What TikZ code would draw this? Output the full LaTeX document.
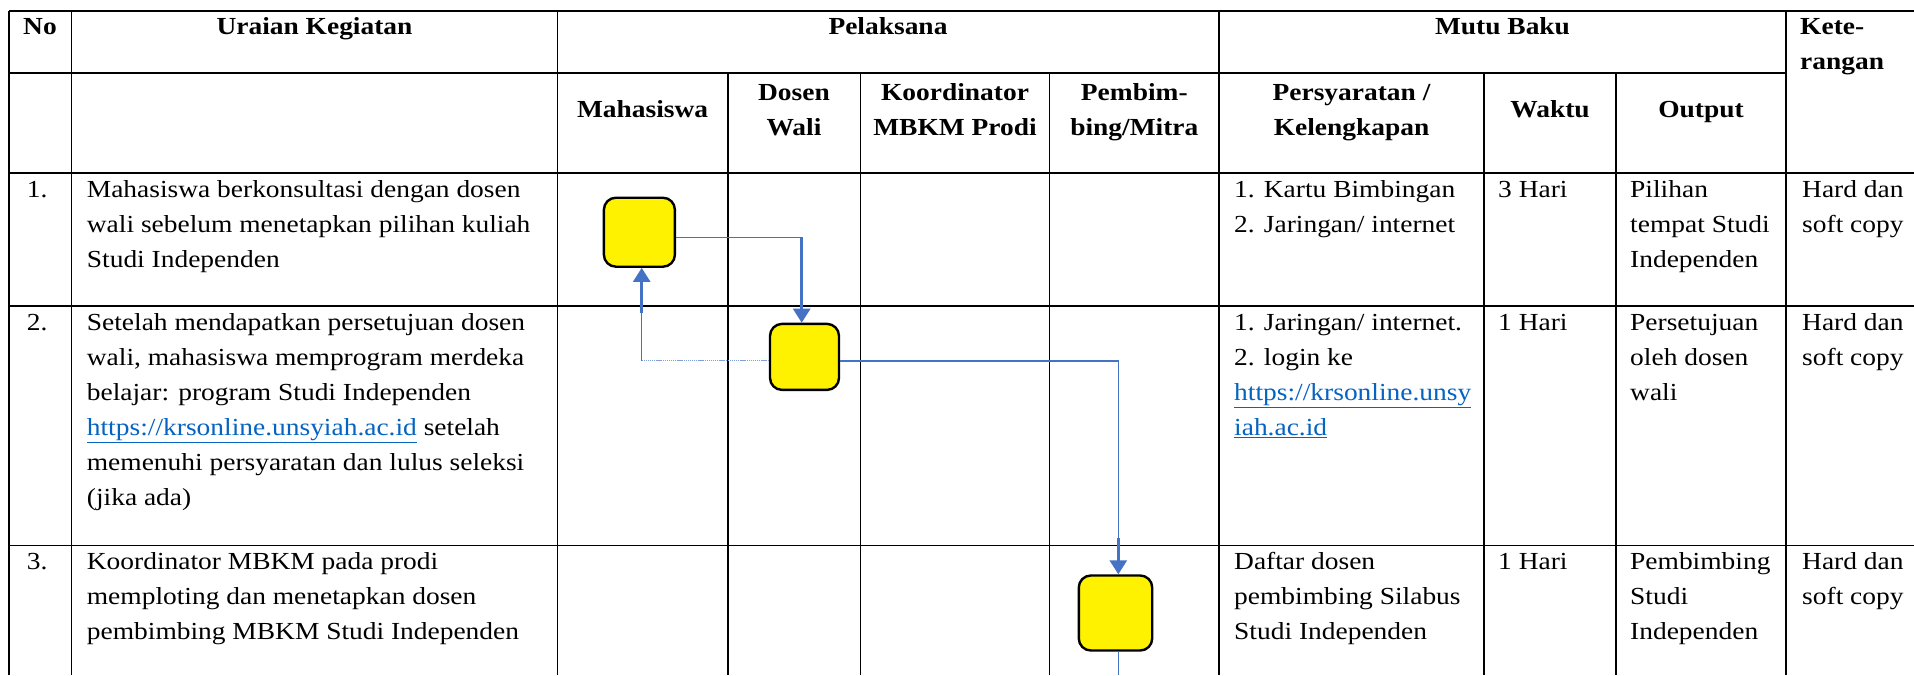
\documentclass[tikz,border=0pt]{standalone}
\usepackage{fontspec}
\setmainfont{Liberation Serif}[FakeStretch=1.12]
\usetikzlibrary{arrows.meta}
\definecolor{conn}{HTML}{4472C4}
\definecolor{connlight}{HTML}{7F9FD6}
\definecolor{linkc}{HTML}{0563C1}
\newcommand\cellfont{\fontsize{24.5}{35}\selectfont}
\newcommand\fst{\rule{0pt}{24pt}}
\newcommand\lnk[1]{\textcolor{linkc}{\underline{#1}}}
\begin{document}
\begin{tikzpicture}[x=1pt,y=-1pt,
  grid/.style={line width=1.6pt, black},
  cell/.style={anchor=north west, inner sep=0pt, align=left, font=\cellfont},
  hcell/.style={anchor=north, inner sep=0pt, align=center, font=\cellfont\bfseries},
  hleft/.style={anchor=north west, inner sep=0pt, align=left, font=\cellfont\bfseries},
  stepbox/.style={draw=black, line width=2.4pt, fill=yellow, rounded corners=12pt, inner sep=0pt},
  flow/.style={draw=conn, line width=1.2pt},
  flowhead/.style={draw=conn, line width=2.7pt, -{Triangle[width=17pt,length=14pt]}},
  flowdot/.style={draw=connlight, line width=1.5pt, dash pattern=on 1.3pt off 0.8pt}]
\useasboundingbox (0,0) rectangle (1914,675);
\fill[white] (0,0) rectangle (1914,675);
% grid
\draw[grid] (9,10.7) -- (1914,10.7);
\draw[grid] (9,73) -- (1786,73);
\draw[grid] (9,173) -- (1914,173);
\draw[grid] (9,306) -- (1914,306);
\draw[grid] (9,545.3) -- (1914,545.3);
\foreach \x in {9,71.3,557.6,1219,1786} \draw[grid] (\x,10.7) -- (\x,675);
\foreach \x in {727.7,860.3,1049.6,1484,1616} \draw[grid] (\x,73) -- (\x,675);
% header row 1
\node[hcell] (hno) at (40,10.7) {\fst No};
\node[hcell] (hura) at (314.5,10.7) {\fst Uraian Kegiatan};
\node[hcell] (hpel) at (888,10.7) {\fst Pelaksana};
\node[hcell] (hmutu) at (1502.5,10.7) {\fst Mutu Baku};
\node[hleft] (hket) at (1800,10.7) {\fst Kete-\\rangan};
% header row 2
\node[hcell] (hmhs) at (642.6,93) {\fst Mahasiswa};
\node[hcell] (hdw) at (794,76) {\fst Dosen\\Wali};
\node[hcell] (hkoor) at (955,76) {\fst Koordinator\\MBKM Prodi};
\node[hcell] (hpemb) at (1134.3,76) {\fst Pembim-\\bing/Mitra};
\node[hcell] (hsyar) at (1351.5,76) {\fst Persyaratan /\\Kelengkapan};
\node[hcell] (hwaktu) at (1550,93) {\fst Waktu};
\node[hcell] (hout) at (1701,93) {\fst Output};
% row 1
\node[cell] (n1) at (26.7,173) {\fst 1.};
\node[cell] (u1) at (86.7,173) {\fst Mahasiswa berkonsultasi dengan dosen\\wali sebelum menetapkan pilihan kuliah\\Studi Independen};
\node[cell] (p1) at (1234,173) {\fst 1. Kartu Bimbingan\\2. Jaringan/ internet};
\node[cell] (w1) at (1498,173) {\fst 3 Hari};
\node[cell] (o1) at (1630,173) {\fst Pilihan\\tempat Studi\\Independen};
\node[cell] (k1) at (1802,173) {\fst Hard dan\\soft copy};
% row 2
\node[cell] (n2) at (26.7,306) {\fst 2.};
\node[cell] (u2) at (86.7,306) {\fst Setelah mendapatkan persetujuan dosen\\wali, mahasiswa memprogram merdeka\\belajar: program Studi Independen\\\lnk{https://krsonline.unsyiah.ac.id} setelah\\memenuhi persyaratan dan lulus seleksi\\(jika ada)};
\node[cell] (p2) at (1234,306) {\fst 1. Jaringan/ internet.\\2. login ke\\\lnk{https://krsonline.unsy}\\\lnk{iah.ac.id}};
\node[cell] (w2) at (1498,306) {\fst 1 Hari};
\node[cell] (o2) at (1630,306) {\fst Persetujuan\\oleh dosen\\wali};
\node[cell] (k2) at (1802,306) {\fst Hard dan\\soft copy};
% row 3
\node[cell] (n3) at (26.7,545.3) {\fst 3.};
\node[cell] (u3) at (86.7,545.3) {\fst Koordinator MBKM pada prodi\\memploting dan menetapkan dosen\\pembimbing MBKM Studi Independen};
\node[cell] (p3) at (1234,545.3) {\fst Daftar dosen\\pembimbing Silabus\\Studi Independen};
\node[cell] (w3) at (1498,545.3) {\fst 1 Hari};
\node[cell] (o3) at (1630,545.3) {\fst Pembimbing\\Studi\\Independen};
\node[cell] (k3) at (1802,545.3) {\fst Hard dan\\soft copy};
% process boxes
\node[stepbox, minimum width=71pt, minimum height=69pt] (box1) at (639.4,232.2) {};
\node[stepbox, minimum width=69pt, minimum height=66pt] (box2) at (804.5,356.9) {};
\node[stepbox, minimum width=73.4pt, minimum height=75pt] (box3) at (1115.5,613) {};
% connectors
\coordinate (a1) at (801.7,237.3);
\draw[flow] (box1.east |- a1) -- (a1);
\draw[flowhead] (a1) -- (a1 |- box2.north);
\coordinate (b1) at (641.7,360.7);
\coordinate (b2) at (641.7,312.7);
\draw[flowdot] (box2.west |- b1) -- (b1);
\draw[flow] (b1) -- (b2);
\draw[flowhead] (b2) -- (b2 |- box1.south);
\coordinate (c1) at (1118.3,361);
\coordinate (c2) at (1118.3,538);
\draw[flow] (box2.east |- c1) -- (c1) -- (c2);
\draw[flowhead] (c2) -- (c2 |- box3.north);
\coordinate (d1) at (1118.3,675);
\draw[flow] (box3.south -| d1) -- (d1);
\end{tikzpicture}
\end{document}
